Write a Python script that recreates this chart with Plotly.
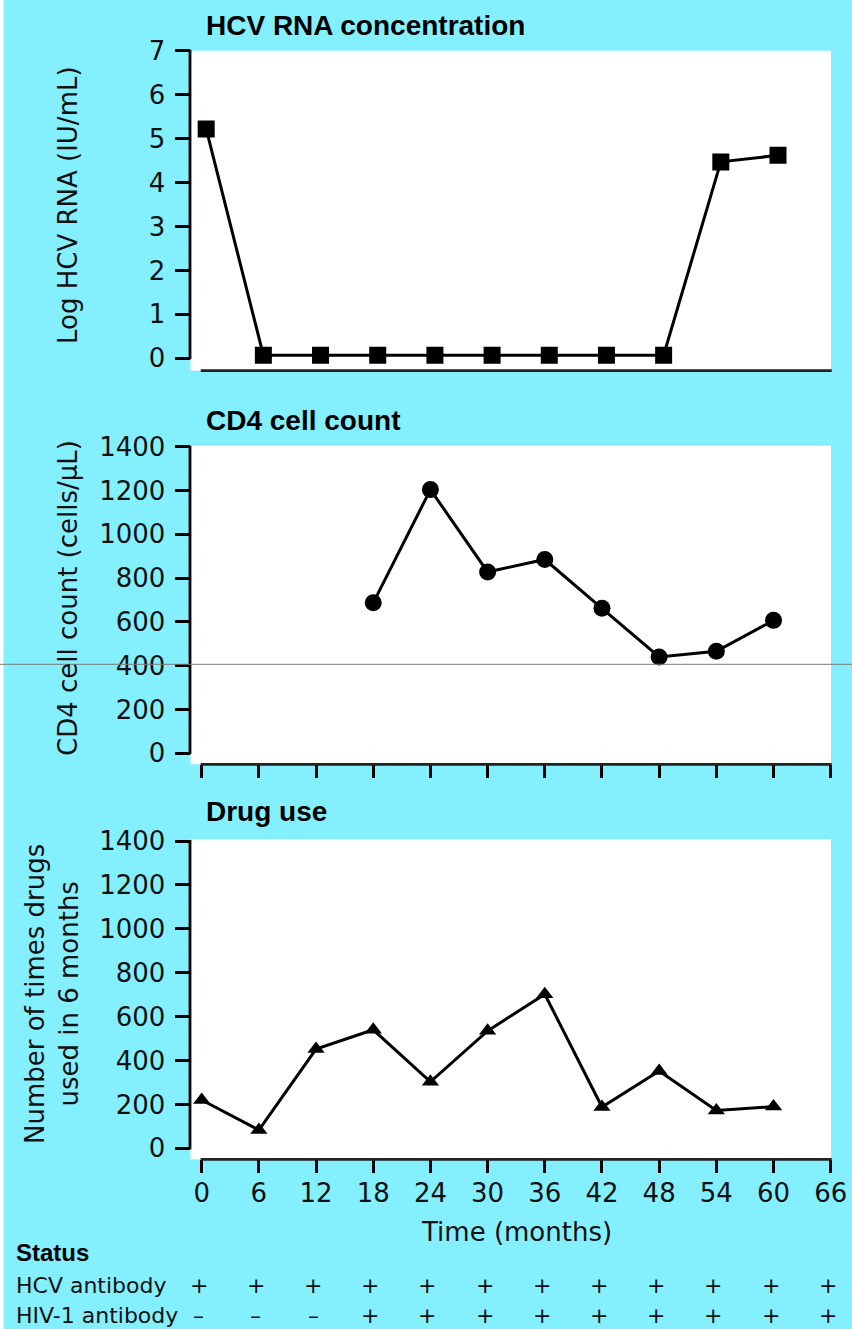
import plotly.graph_objects as go

# ---------------- data ----------------
months = [0, 6, 12, 18, 24, 30, 36, 42, 48, 54, 60]
hcv_rna_log = [5.22, 0.07, 0.07, 0.07, 0.07, 0.07, 0.07, 0.07, 0.07, 4.47, 4.62]

cd4_months = [18, 24, 30, 36, 42, 48, 54, 60]
cd4_count = [687, 1204, 828, 885, 662, 440, 466, 607]

drug_months = [0, 6, 12, 18, 24, 30, 36, 42, 48, 54, 60]
drug_use = [220, 83, 452, 540, 303, 535, 702, 188, 352, 172, 190]

x_ticks = [0, 6, 12, 18, 24, 30, 36, 42, 48, 54, 60, 66]
hcv_ticks = [0, 1, 2, 3, 4, 5, 6, 7]
count_ticks = [0, 200, 400, 600, 800, 1000, 1200, 1400]

status_months = [0, 6, 12, 18, 24, 30, 36, 42, 48, 54, 60, 66]
hcv_antibody = ["+", "+", "+", "+", "+", "+", "+", "+", "+", "+", "+", "+"]
hiv_antibody = ["–", "–", "–", "+", "+", "+", "+", "+", "+", "+", "+", "+"]

panel_titles = ["HCV RNA concentration", "CD4 cell count", "Drug use"]
y_titles = ["Log HCV RNA (IU/mL)", "CD4 cell count (cells/µL)",
            "Number of times drugs<br>used in 6 months"]

# ---------------- layout geometry (pixels) ----------------
W, H = 852, 1329
CYAN = "#84F0FF"
FONT = "DejaVu Sans"
BOLD = "Liberation Sans"


def px(p):
    return p / W


def py(p):
    return 1 - p / H


# x: 0 -> 201.7 px, 66 -> 830.7 px ; domain 190.5 .. 831
X_LEFT, X_RIGHT = 190.5, 831.0
xs = (830.7 - 201.7) / 66.0
x_range = [0 - (201.7 - X_LEFT) / xs, 66 + (X_RIGHT - 830.7) / xs]


def xval_px(v):
    return 201.7 + v * xs


# panels: (dom_top_px, dom_bot_px, vmax, vmax_px, vzero_px)
panels = [
    (50.7, 370.7, 7, 50.7, 358.3),
    (445.7, 764.3, 1400, 446.7, 753.3),
    (839.3, 1159.3, 1400, 841.0, 1148.3),
]


def yrange(p):
    top, bot, vmax, vmax_px, v0_px = p
    s = (v0_px - vmax_px) / vmax
    return [-(bot - v0_px) / s, vmax + (vmax_px - top) / s]


fig = go.Figure()

line_style = dict(color="black", width=3)

# HCV RNA (plotted on a slightly offset overlay axis as in the original)
fig.add_trace(go.Scatter(x=months, y=hcv_rna_log, mode="lines+markers",
                         line=line_style, xaxis="x4", yaxis="y",
                         marker=dict(symbol="square", size=17, color="black")))
fig.add_trace(go.Scatter(x=cd4_months, y=cd4_count, mode="lines+markers",
                         line=line_style, xaxis="x2", yaxis="y2",
                         marker=dict(symbol="circle", size=17, color="black")))
fig.add_trace(go.Scatter(x=drug_months, y=drug_use, mode="lines+markers",
                         line=line_style, xaxis="x3", yaxis="y3",
                         marker=dict(symbol="triangle-up", size=15, color="black")))

xdom = [px(X_LEFT), px(X_RIGHT)]
tickfont = dict(family=FONT, size=26, color="#111")

common_x = dict(domain=xdom, range=x_range, tickmode="array", tickvals=x_ticks,
                ticks="outside", ticklen=13, tickwidth=2.5, tickcolor="black",
                showgrid=False, zeroline=False, showline=False, fixedrange=True)
common_y = dict(ticks="outside", ticklen=15, tickwidth=2.5, tickcolor="black",
                showgrid=False, zeroline=False, showline=False, tickfont=tickfont,
                ticklabelstandoff=4, fixedrange=True)

ydoms = [[py(p[1]), py(p[0])] for p in panels]

fig.update_layout(
    width=W, height=H, margin=dict(l=0, r=0, t=0, b=0, autoexpand=False),
    paper_bgcolor=CYAN, plot_bgcolor="white", showlegend=False,
    xaxis=dict(anchor="y", showticklabels=False, **common_x),
    xaxis2=dict(anchor="y2", showticklabels=False, **common_x),
    xaxis3=dict(anchor="y3", showticklabels=True, tickfont=tickfont,
                ticklabelstandoff=-3, **common_x),
    xaxis4=dict(overlaying="x", anchor="y", domain=xdom, visible=False,
                range=[x_range[0] - 0.47, x_range[1] - 0.47], fixedrange=True),
    yaxis=dict(anchor="x", domain=ydoms[0], range=yrange(panels[0]),
               tickmode="array", tickvals=hcv_ticks, **common_y),
    yaxis2=dict(anchor="x2", domain=ydoms[1], range=yrange(panels[1]),
                tickmode="array", tickvals=count_ticks, **common_y),
    yaxis3=dict(anchor="x3", domain=ydoms[2], range=yrange(panels[2]),
                tickmode="array", tickvals=count_ticks, **common_y),
)

shapes = []
# left white strip of the original scan
shapes.append(dict(type="rect", xref="paper", yref="paper", x0=0, x1=px(3.5),
                   y0=0, y1=1, fillcolor="white", line=dict(width=0), layer="above"))
for p in panels:
    top, bot, vmax, vmax_px, v0_px = p
    # y spine from 0 to max
    shapes.append(dict(type="line", xref="paper", yref="paper",
                       x0=px(190), x1=px(190), y0=py(v0_px + 1), y1=py(vmax_px - 1),
                       line=dict(color="black", width=2.8)))
    # x spine from 0 to 66
    shapes.append(dict(type="line", xref="paper", yref="paper",
                       x0=px(xval_px(0) - 1), x1=px(xval_px(66) + 1),
                       y0=py(bot), y1=py(bot),
                       line=dict(color="#222", width=2.8)))
# thin grey horizontal line across the full width
shapes.append(dict(type="line", xref="paper", yref="paper", x0=0, x1=1,
                   y0=py(664.3), y1=py(664.3),
                   line=dict(color="#7a7a7a", width=1), layer="above"))
fig.update_layout(shapes=shapes)

ann = []
title_y = [25, 420.3, 811.7]
for t, ty in zip(panel_titles, title_y):
    ann.append(dict(text="<b>" + t + "</b>", xref="paper", yref="paper",
                    x=px(204), y=py(ty), xanchor="left", yanchor="middle",
                    showarrow=False, font=dict(family=BOLD, size=28, color="black")))

ytitle_pos = [(68, 205), (68, 598), (52, 994)]
for t, (tx, ty) in zip(y_titles, ytitle_pos):
    ann.append(dict(text=t, xref="paper", yref="paper", x=px(tx), y=py(ty),
                    xanchor="center", yanchor="middle", textangle=-90,
                    showarrow=False, font=dict(family=FONT, size=26, color="#111")))

ann.append(dict(text="Time (months)", xref="paper", yref="paper",
                x=px(516), y=py(1231.5), xanchor="center", yanchor="middle",
                showarrow=False, font=dict(family=FONT, size=26, color="#111")))

ann.append(dict(text="<b>Status</b>", xref="paper", yref="paper",
                x=px(14), y=py(1252), xanchor="left", yanchor="middle",
                showarrow=False, font=dict(family=BOLD, size=24, color="black")))
ann.append(dict(text="HCV antibody", xref="paper", yref="paper",
                x=px(14), y=py(1285), xanchor="left", yanchor="middle",
                showarrow=False, font=dict(family=FONT, size=22, color="#111")))
ann.append(dict(text="HIV-1 antibody", xref="paper", yref="paper",
                x=px(14), y=py(1315), xanchor="left", yanchor="middle",
                showarrow=False, font=dict(family=FONT, size=22, color="#111")))

for m, s in zip(status_months, hcv_antibody):
    ann.append(dict(text=s, xref="x3", yref="paper", x=m, y=py(1285),
                    xanchor="center", yanchor="middle", xshift=-3,
                    showarrow=False, font=dict(family=FONT, size=22, color="#111")))
for m, s in zip(status_months, hiv_antibody):
    ann.append(dict(text=s, xref="x3", yref="paper", x=m, y=py(1315),
                    xanchor="center", yanchor="middle", xshift=-3,
                    showarrow=False, font=dict(family=FONT, size=22, color="#111")))

fig.update_layout(annotations=ann)

fig.write_html(
    "out.html",
    config={"displayModeBar": False},
    post_script="document.body.style.margin='0';"
                "document.body.style.background='" + CYAN + "';"
                "document.documentElement.style.overflow='hidden';",
)
